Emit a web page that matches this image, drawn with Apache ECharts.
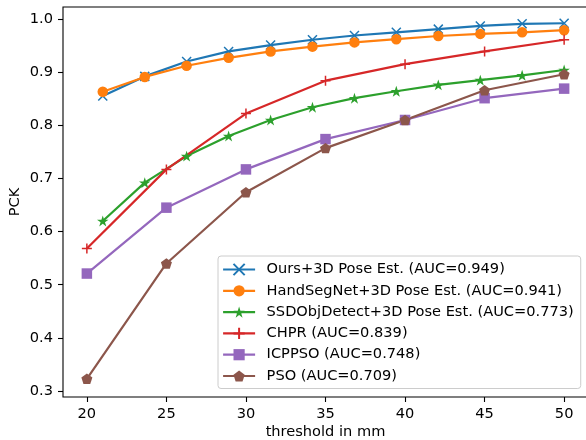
<!DOCTYPE html>
<html>
<head>
<meta charset="utf-8">
<script src="https://cdn.jsdelivr.net/npm/echarts@6/dist/echarts.min.js"></script>
<style>
  html, body { margin: 0; padding: 0; background: #fff; }
  #chart { width: 586px; height: 440px; }
</style>
</head>
<body>
<div id="chart"></div>
<script>
// thresholds (mm)
var xDense = [21, 23.64, 26.27, 28.91, 31.55, 34.18, 36.82, 39.45, 42.09, 44.73, 47.36, 50];
var xSparse = [20, 25, 30, 35, 40, 45, 50];

// PCK values
var ours = [0.855, 0.892, 0.920, 0.939, 0.951, 0.961, 0.969, 0.975, 0.981, 0.987, 0.991, 0.992];
var handSeg = [0.863, 0.891, 0.912, 0.927, 0.939, 0.948, 0.956, 0.962, 0.968, 0.972, 0.975, 0.979];
var ssd = [0.620, 0.692, 0.742, 0.780, 0.810, 0.834, 0.851, 0.864, 0.876, 0.885, 0.894, 0.904];
var chpr = [0.568, 0.717, 0.822, 0.884, 0.915, 0.939, 0.961];
var icppso = [0.521, 0.645, 0.717, 0.774, 0.810, 0.851, 0.869];
var pso = [0.323, 0.540, 0.674, 0.757, 0.810, 0.866, 0.896];

var names = [
  "Ours+3D Pose Est. (AUC=0.949)",
  "HandSegNet+3D Pose Est. (AUC=0.941)",
  "SSDObjDetect+3D Pose Est. (AUC=0.773)",
  "CHPR (AUC=0.839)",
  "ICPPSO (AUC=0.748)",
  "PSO (AUC=0.709)"
];

var xTicks = [20, 25, 30, 35, 40, 45, 50];
var yTicks = [0.3, 0.4, 0.5, 0.6, 0.7, 0.8, 0.9, 1.0];

var font = "DejaVu Sans";
var fs = 14.6;

// marker shapes
var xMark = "path://M0 0L100 100M100 0L0 100";
var plusMark = "path://M50 0L50 100M0 50L100 50";
var starMark = "path://M50 0L61.23 34.55L97.55 34.55L68.17 55.9L79.39 90.45L50 69.1L20.61 90.45L31.83 55.9L2.45 34.55L38.77 34.55Z";
var pentMark = "path://M50 0L97.55 34.55L79.39 90.45L20.61 90.45L2.45 34.55Z";

function pairs(xs, ys) {
  return xs.map(function (x, i) { return [x, ys[i]]; });
}

function mkSeries(name, xs, ys, color, symbol, size, stroked) {
  return {
    type: "line",
    name: name,
    data: pairs(xs, ys),
    symbol: symbol,
    symbolSize: size,
    symbolKeepAspect: true,
    showSymbol: true,
    color: color,
    lineStyle: {width: 2.2, color: color},
    itemStyle: stroked ? {color: "rgba(0,0,0,0)", borderColor: color, borderWidth: 1.5}
                       : {color: color, borderColor: color, borderWidth: 0},
    emphasis: {disabled: true},
    animation: false
  };
}

var chart = echarts.init(document.getElementById("chart"));

chart.setOption({
  animation: false,
  grid: {
    left: 63, top: 7, width: 525, height: 390,
    outerBoundsMode: "none",
    containLabel: false,
    show: true, borderColor: "#000", borderWidth: 1.1, backgroundColor: "#fff"
  },
  xAxis: {
    type: "value", min: 18.5, max: 51.5,
    name: "threshold in mm", nameLocation: "middle", nameGap: 28,
    nameMoveOverlap: false,
    nameTextStyle: {fontFamily: font, fontSize: fs, color: "#000"},
    axisLine: {show: false},
    axisTick: {show: true, length: 5, customValues: xTicks, lineStyle: {color: "#000", width: 1.1}},
    axisLabel: {customValues: xTicks, margin: 10, fontFamily: font, fontSize: fs, color: "#000"},
    splitLine: {show: false}
  },
  yAxis: {
    type: "value", min: 0.2887, max: 1.0226,
    name: "PCK", nameLocation: "middle", nameGap: 40, nameRotate: 90,
    nameMoveOverlap: false,
    nameTextStyle: {fontFamily: font, fontSize: fs, color: "#000"},
    axisLine: {show: false},
    axisTick: {show: true, length: 5, customValues: yTicks, lineStyle: {color: "#000", width: 1.1}},
    axisLabel: {
      customValues: yTicks, margin: 10, fontFamily: font, fontSize: fs, color: "#000",
      formatter: function (v) { return v.toFixed(1); }
    },
    splitLine: {show: false}
  },
  legend: {
    orient: "vertical", left: 218, top: 256,
    padding: [6, 7, 5, 4],
    itemWidth: 32, itemHeight: 14, itemGap: 6.3,
    backgroundColor: "rgba(255,255,255,0.8)",
    borderColor: "#cccccc", borderWidth: 1, borderRadius: 3,
    lineStyle: {width: 2.2},
    textStyle: {fontFamily: font, fontSize: fs, color: "#000", lineHeight: 14, padding: [0, 0, 0, 6.5]},
    data: names
  },
  series: [
    mkSeries(names[0], xDense, ours, "#1f77b4", xMark, 9, true),
    mkSeries(names[1], xDense, handSeg, "#ff7f0e", "circle", 10.5, false),
    mkSeries(names[2], xDense, ssd, "#2ca02c", starMark, 11.5, false),
    mkSeries(names[3], xSparse, chpr, "#d62728", plusMark, 10, true),
    mkSeries(names[4], xSparse, icppso, "#9467bd", "rect", 10.5, false),
    mkSeries(names[5], xSparse, pso, "#8c564b", pentMark, 11, false)
  ]
});
</script>
</body>
</html>
